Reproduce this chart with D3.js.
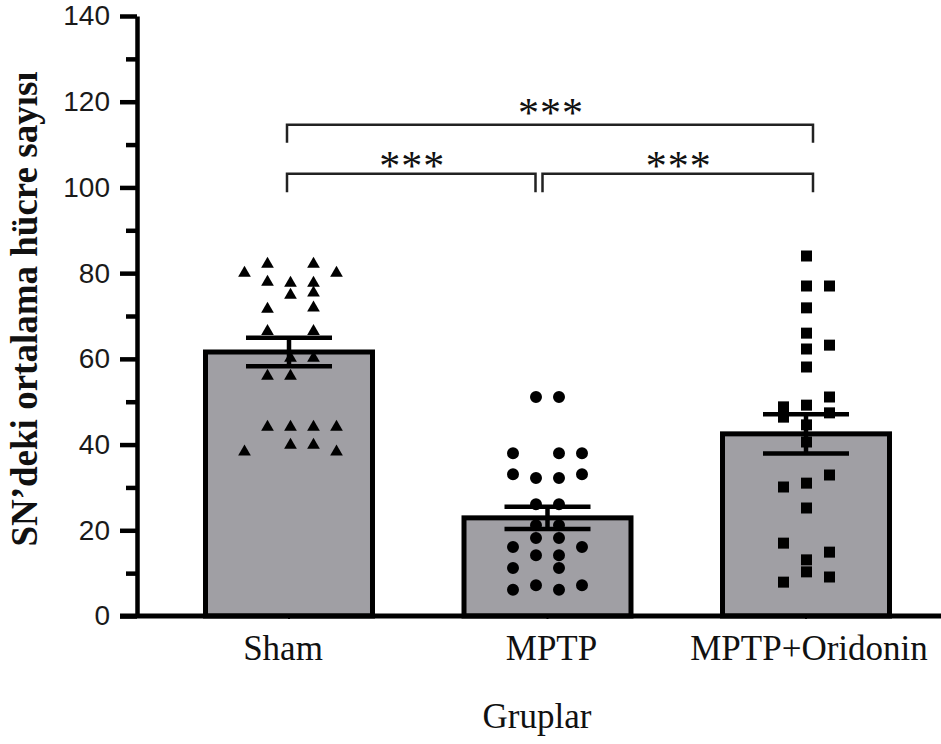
<!DOCTYPE html>
<html lang="tr">
<head>
<meta charset="UTF-8">
<title>SN'deki ortalama hücre sayısı</title>
<script src="https://d3js.org/d3.v7.min.js"></script>
<style>
    body { margin: 0; background: #fff; }
    svg { display: block; }
    .y-axis text { font-family: "Liberation Sans", Arial, sans-serif; font-size: 28px; fill: #1a1a1a; }
    .x-axis text, .axis-title, .stars { font-family: "Liberation Serif", "Times New Roman", serif; fill: #111; }
</style>
</head>
<body>
<svg width="941" height="744"></svg>
<script>
// groups and summary values (mean, sem)
const groups = ["Sham", "MPTP", "MPTP+Oridonin"];
const means = [61.6, 22.9, 42.5];
const sems = [3.3, 2.6, 4.6];

// individual points per group, with their column in the dot layout
const shamValues = [80.0, 82.1, 82.1, 80.0, 77.9, 77.7, 77.7, 74.9, 75.4, 71.6, 71.9, 66.4, 66.4,
    60.2, 60.2, 56.0, 56.0, 44.1, 44.1, 44.1, 44.1, 39.9, 39.9, 38.3, 38.3];
const shamCols = [-2, -1, 1, 2, -1, 0, 1, 0, 1, -1, 1, -1, 1,
    0, 1, -1, 0, -1, 0, 1, 2, 0, 1, -2, 2];

const mptpValues = [51.1, 51.1, 38.0, 38.0, 38.0, 33.1, 32.2, 32.2, 33.1, 26.1, 26.1, 21.2, 21.2,
    18.2, 18.2, 16.1, 16.1, 14.2, 14.2, 11.2, 11.2, 6.1, 7.2, 6.1, 7.2];
const mptpCols = [-0.5, 0.5, -1.5, 0.5, 1.5, -1.5, -0.5, 0.5, 1.5, -0.5, 0.5, -0.5, 0.5,
    -0.5, 0.5, -1.5, 1.5, -0.5, 0.5, -1.5, 0.5, -1.5, -0.5, 0.5, 1.5];

const oriValues = [84.0, 77.0, 77.0, 71.9, 66.0, 63.2, 62.3, 58.1, 51.1, 48.8, 49.2, 46.4, 47.4,
    44.6, 40.6, 32.9, 30.1, 31.0, 25.2, 17.0, 14.9, 13.1, 10.3, 7.9, 9.1];
const oriCols = [0, 0, 1, 0, 0, 1, 0, 0, 1, -1, 0, -1, 1,
    0, 0, 1, -1, 0, 0, -1, 1, 0, 0, -1, 1];

// significance brackets: level of the bar, end of the legs, where the stars sit
const brackets = [
    { from: "Sham", to: "MPTP+Oridonin", level: 114.6, leg: 110.4, starsAt: 119.5, label: "***" },
    { from: "Sham", to: "MPTP", level: 103.2, leg: 98.9, starsAt: 107.0, label: "***" },
    { from: "MPTP", to: "MPTP+Oridonin", level: 103.2, leg: 98.9, starsAt: 107.0, label: "***" }
];

const yTicks = [0, 20, 40, 60, 80, 100, 120, 140];
const yMinorTicks = [10, 30, 50, 70, 90, 110, 130];

const svg = d3.select("svg");
const baseY = 616;
const axisX = 137;

const y = d3.scaleLinear().domain([0, 140]).range([baseY, 16]);
const x = d3.scaleBand().domain(groups)
    .range([159.75, 935.25])
    .paddingInner(0.354)
    .paddingOuter(0.177);
const cx = g => x(g) + x.bandwidth() / 2;
const col = d3.scaleLinear().domain([-1, 1]).range([-23, 23]);

// bars
svg.selectAll(".bar")
    .data(groups)
    .enter().append("rect")
    .attr("class", "bar")
    .attr("x", d => x(d))
    .attr("width", x.bandwidth())
    .attr("y", (d, i) => y(means[i]))
    .attr("height", (d, i) => baseY - y(means[i]))
    .attr("fill", "#a09fa4")
    .attr("stroke", "#000")
    .attr("stroke-width", 5);

// points
const pointSets = [
    { group: "Sham", values: shamValues, cols: shamCols, shape: d3.symbolTriangle, size: 70, shift: 1.5 },
    { group: "MPTP", values: mptpValues, cols: mptpCols, shape: d3.symbolCircle, size: 113, shift: 0 },
    { group: "MPTP+Oridonin", values: oriValues, cols: oriCols, shape: d3.symbolSquare, size: 121, shift: 0.5 }
];
pointSets.forEach(set => {
    svg.append("g").selectAll("path")
        .data(set.values.map((v, i) => ({ v, c: set.cols[i] })))
        .enter().append("path")
        .attr("d", d3.symbol().type(set.shape).size(set.size))
        .attr("transform", d => `translate(${cx(set.group) + set.shift + col(d.c)},${y(d.v)})`)
        .attr("fill", "#000");
});

// error bars
const capHalf = 43;
const err = svg.append("g").attr("stroke", "#000").attr("stroke-width", 4.5);
groups.forEach((g, i) => {
    const top = y(means[i] + sems[i]), bot = y(means[i] - sems[i]);
    err.append("line").attr("x1", cx(g)).attr("x2", cx(g)).attr("y1", top).attr("y2", bot);
    err.append("line").attr("x1", cx(g) - capHalf).attr("x2", cx(g) + capHalf).attr("y1", top).attr("y2", top);
    err.append("line").attr("x1", cx(g) - capHalf).attr("x2", cx(g) + capHalf).attr("y1", bot).attr("y2", bot);
});

// y axis
const yAxis = svg.append("g")
    .attr("class", "y-axis")
    .attr("transform", `translate(${axisX},0)`)
    .call(d3.axisLeft(y).tickValues(yTicks).tickSize(17).tickSizeOuter(0).tickPadding(10));
svg.append("g")
    .attr("transform", `translate(${axisX},0)`)
    .call(d3.axisLeft(y).tickValues(yMinorTicks).tickSize(11).tickSizeOuter(0).tickFormat(""))
    .call(g => g.select(".domain").remove())
    .selectAll("line").attr("stroke-width", 4.5);
yAxis.select(".domain").attr("stroke-width", 4.5);
yAxis.selectAll(".tick line").attr("stroke-width", 4.5);

// x axis
const xAxis = svg.append("g")
    .attr("class", "x-axis")
    .attr("transform", `translate(0,${baseY})`)
    .call(d3.axisBottom(x).tickSize(3).tickSizeOuter(0).tickPadding(16));
xAxis.select(".domain").attr("d", `M${axisX - 17},0H941`).attr("stroke-width", 5);
xAxis.selectAll(".tick line").attr("stroke-width", 2);
xAxis.selectAll(".tick text").attr("font-size", 35).attr("dx", (d, i) => [-6, 4, 3][i]);

// brackets
const endNudge = { left: { "Sham": -2, "MPTP": -5 }, right: { "MPTP": -12, "MPTP+Oridonin": 7 } };
const br = svg.append("g");
brackets.forEach(b => {
    const x1 = cx(b.from) + endNudge.left[b.from];
    const x2 = cx(b.to) + endNudge.right[b.to];
    br.append("path")
        .attr("d", `M${x1},${y(b.leg)}V${y(b.level)}H${x2}V${y(b.leg)}`)
        .attr("fill", "none")
        .attr("stroke", "#222")
        .attr("stroke-width", 2.5);
    br.append("text")
        .attr("class", "stars")
        .attr("x", (x1 + x2) / 2 + 1)
        .attr("y", y(b.starsAt) + 23)
        .attr("text-anchor", "middle")
        .attr("font-size", 42)
        .attr("letter-spacing", 1)
        .text(b.label);
});

// axis titles
svg.append("text")
    .attr("class", "axis-title")
    .attr("transform", "translate(37,309) rotate(-90)")
    .attr("text-anchor", "middle")
    .attr("font-size", 37)
    .attr("font-weight", "bold")
    .text("SN’deki ortalama hücre sayısı");

svg.append("text")
    .attr("class", "axis-title")
    .attr("x", 537)
    .attr("y", 728)
    .attr("text-anchor", "middle")
    .attr("font-size", 35)
    .text("Gruplar");
</script>
</body>
</html>
